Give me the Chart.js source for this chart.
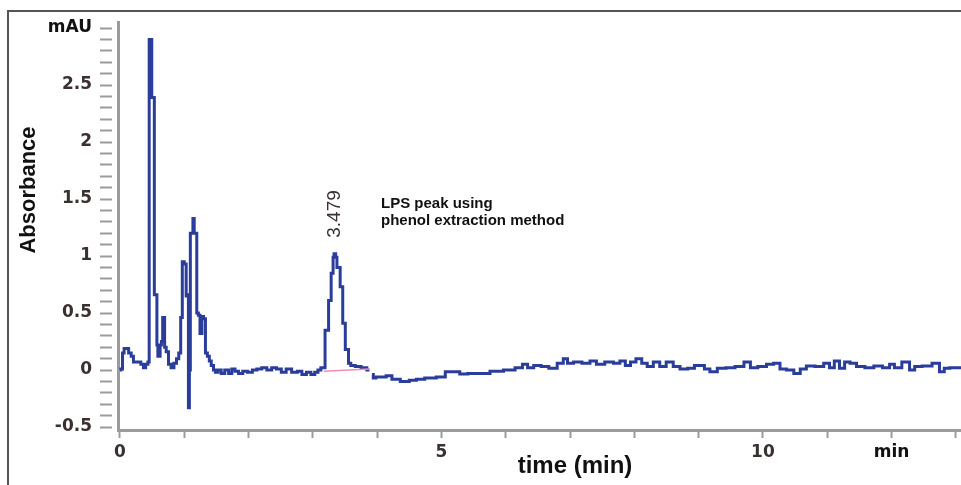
<!DOCTYPE html>
<html><head><meta charset="utf-8">
<script src="https://cdn.jsdelivr.net/npm/chart.js@4/dist/chart.umd.min.js"></script>
<style>html,body{margin:0;padding:0;background:#fff}#wrap{width:961px;height:485px;position:relative}</style>
</head><body><div id="wrap"><canvas id="c" width="961" height="485"></canvas></div>
<script>
// Retention time (min) and absorbance (mAU)
const timeMin = [
  0, 0.03, 0.05, 0.08, 0.12, 0.15, 0.2, 0.22, 0.3, 0.35, 0.38, 0.42, 0.45,
  0.46, 0.49, 0.5, 0.53, 0.54, 0.57, 0.58, 0.6, 0.62, 0.63, 0.66, 0.67, 0.69, 0.7, 0.74, 0.77,
  0.82, 0.86, 0.9, 0.93, 0.96, 0.98, 1.02, 1.04, 1.06, 1.07, 1.09, 1.1, 1.13, 1.14, 1.17, 1.19,
  1.2, 1.24, 1.25, 1.27, 1.28, 1.32, 1.34, 1.38, 1.4, 1.44, 1.47, 1.5,
  1.55, 1.6, 1.66, 1.72, 1.76, 1.82, 1.87, 1.95, 2.02, 2.1, 2.16, 2.25, 2.32, 2.4, 2.47, 2.55,
  2.62, 2.72, 2.8, 2.86, 2.94, 3.0, 3.06, 3.1, 3.15,
  3.18, 3.2, 3.24, 3.25, 3.28, 3.29, 3.31, 3.32, 3.34, 3.37, 3.38, 3.42, 3.43, 3.46, 3.47, 3.5,
  3.51, 3.55, 3.56, 3.62, 3.7, 3.8, 3.88, 3.9, 3.92, 3.96,
  4.0, 4.1, 4.18, 4.28, 4.44, 4.56, 4.66, 4.82, 5.02, 5.1, 5.24, 5.33, 5.49, 5.65, 5.86,
  6.07, 6.22, 6.3, 6.38, 6.49, 6.61, 6.73, 6.87, 6.92, 7.0, 7.11, 7.26, 7.36, 7.46, 7.62,
  7.73, 7.82, 7.9, 7.98, 8.07, 8.16, 8.24, 8.35, 8.44, 8.55, 8.66, 8.76, 8.9, 8.97, 9.05,
  9.13, 9.22, 9.36, 9.49, 9.64, 9.77, 9.84, 10.0, 10.11, 10.22, 10.31, 10.42, 10.54, 10.62,
  10.73, 10.89, 11.0, 11.07, 11.15, 11.23, 11.31, 11.4, 11.51, 11.66, 11.79, 11.93, 12.01,
  12.08, 12.24, 12.32, 12.4, 12.55, 12.71, 12.78, 12.86, 12.95, 13.08
];
const absorbance = [
  0, 0.01, 0.15, 0.19, 0.19, 0.15, 0.12, 0.07, 0.07, 0.05, 0.02, 0.05, 0.07,
  2.9, 2.9, 2.39, 2.39, 0.66, 0.66, 0.22, 0.12, 0.12, 0.22, 0.25, 0.46, 0.46, 0.2, 0.16, 0.05,
  0.02, 0.06, 0.1, 0.15, 0.46, 0.95, 0.93, 0.65, 0.66, -0.33, 0.0, 1.2, 1.2, 1.33, 1.2, 1.2,
  0.5, 0.48, 0.32, 0.32, 0.47, 0.45, 0.15, 0.12, 0.08, 0.04, 0.0, -0.02,
  0.0, -0.03, 0.0, -0.03, 0.01, -0.01, -0.03, -0.01, -0.02, 0.0, 0.01, 0.02, 0.0, 0.02, 0.01, -0.02,
  0.01, -0.02, -0.01, -0.04, -0.02, -0.04, -0.02, 0.0, 0.02,
  0.02, 0.35, 0.35, 0.61, 0.61, 0.85, 0.85, 0.99, 1.02, 0.99, 0.9, 0.9, 0.73, 0.73, 0.41, 0.41,
  0.18, 0.18, 0.06, 0.04, 0.03, 0.02, 0.0, null, -0.04, -0.07,
  -0.06, -0.06, -0.05, -0.08, -0.1, -0.09, -0.08, -0.07, -0.06, -0.015, -0.015, -0.035, -0.03, -0.03, -0.01,
  0.0, 0.02, 0.05, 0.02, 0.04, 0.03, 0.015, 0.06, 0.1, 0.06, 0.07, 0.06, 0.08, 0.05, 0.07,
  0.06, 0.08, 0.04, 0.07, 0.1, 0.06, 0.03, 0.07, 0.03, 0.07, 0.03, 0.01, 0.015, 0.04, 0.04,
  0.01, -0.015, 0.015, 0.02, 0.03, 0.07, 0.02, 0.03, 0.05, 0.06, 0.01, 0.0, -0.03, 0.01,
  0.035, 0.03, 0.06, 0.02, 0.08, 0.015, 0.07, 0.06, 0.03, 0.02, 0.035, 0.02, 0.05,
  0.02, 0.07, 0.0, 0.03, 0.035, 0.06, -0.015, 0.015, 0.02, 0.02
];
// integration baseline under the LPS peak
const baselineTime = [3.17, 3.88];
const baselineAbs = [-0.01, 0.01];

const yTickValues = [-0.5, -0.4, -0.3, -0.2, -0.1, 0, 0.1, 0.2, 0.3, 0.4, 0.5, 0.6, 0.7, 0.8, 0.9, 1.0,
  1.1, 1.2, 1.3, 1.4, 1.5, 1.6, 1.7, 1.8, 1.9, 2.0, 2.1, 2.2, 2.3, 2.4, 2.5, 2.6, 2.7, 2.8, 2.9, 3.0];
const yLabelValues = [-0.5, 0, 0.5, 1, 1.5, 2, 2.5, 3];
const yLabelTexts = ['-0.5', '0', '0.5', '1', '1.5', '2', '2.5', 'mAU'];
const xTickValues = [0, 1, 2, 3, 4, 5, 6, 7, 8, 9, 10, 11, 12, 13];
const xLabelValues = [0, 5, 10, 12];
const xLabelTexts = ['0', '5', '10', 'min'];

const peakLabel = '3.479';
const noteLines = ['LPS peak using', 'phenol extraction method'];

function findLabel(vals, texts, v) {
  for (let i = 0; i < vals.length; i++) if (Math.abs(vals[i] - v) < 1e-6) return texts[i];
  return '';
}

const AXIS_GREY = '#9b9b9b';
const LABEL_COL = '#3a3030';

const framePlugin = {
  id: 'frame',
  beforeDraw(chart) {
    const ctx = chart.ctx;
    ctx.save();
    ctx.fillStyle = '#fff';
    ctx.fillRect(0, 0, chart.width, chart.height);
    ctx.strokeStyle = '#555';
    ctx.lineWidth = 2;
    ctx.beginPath();
    ctx.moveTo(8, 485);
    ctx.lineTo(8, 11);
    ctx.lineTo(961, 11);
    ctx.stroke();
    ctx.restore();
  },
  afterDraw(chart) {
    const ctx = chart.ctx;
    const xs = chart.scales.x;
    ctx.save();
    ctx.fillStyle = '#111';
    ctx.font = 'bold 22px "Liberation Sans", Arial, sans-serif';
    ctx.textAlign = 'center';
    ctx.textBaseline = 'middle';
    ctx.translate(29, 190);
    ctx.rotate(-Math.PI / 2);
    ctx.fillText('Absorbance', 0, 0);
    ctx.restore();
    ctx.save();
    ctx.fillStyle = '#111';
    ctx.font = 'bold 24px "Liberation Sans", Arial, sans-serif';
    ctx.textAlign = 'center';
    ctx.textBaseline = 'middle';
    ctx.fillText('time (min)', 575, 466);
    ctx.fillStyle = LABEL_COL;
    ctx.font = '19px "Liberation Sans", Arial, sans-serif';
    ctx.save();
    ctx.translate(xs.getPixelForValue(3.34), 214);
    ctx.rotate(-Math.PI / 2);
    ctx.fillText(peakLabel, 0, 0);
    ctx.restore();
    ctx.fillStyle = '#111';
    ctx.font = 'bold 15px "Liberation Sans", Arial, sans-serif';
    ctx.textAlign = 'left';
    ctx.fillText(noteLines[0], 381, 204);
    ctx.fillText(noteLines[1], 381, 221);
    ctx.restore();
  }
};

const mainData = timeMin.map((t, i) => ({ x: t, y: absorbance[i] }));
const baseData = baselineTime.map((t, i) => ({ x: t, y: baselineAbs[i] }));

new Chart(document.getElementById('c'), {
  type: 'line',
  data: {
    datasets: [
      { data: baseData, borderColor: '#f48cb6', borderWidth: 1.5, pointRadius: 0, tension: 0 },
      { data: mainData, borderColor: '#2b3d9b', borderWidth: 3, pointRadius: 0, tension: 0, stepped: 'middle', spanGaps: false, borderJoinStyle: 'miter' }
    ]
  },
  options: {
    responsive: false,
    devicePixelRatio: 1,
    animation: false,
    events: [],
    layout: { padding: { top: 22, left: 0, right: 0, bottom: 0 } },
    plugins: { legend: { display: false }, tooltip: { enabled: false }, title: { display: false } },
    scales: {
      x: {
        type: 'linear',
        min: -0.03,
        max: 13.08,
        afterBuildTicks(s) { s.ticks = xTickValues.map(v => ({ value: v })); },
        afterFit(s) { s.height = 55; },
        border: { display: true, color: AXIS_GREY, width: 3 },
        grid: { drawOnChartArea: false, drawTicks: true, tickLength: 8, tickColor: AXIS_GREY, tickWidth: 2 },
        ticks: {
          autoSkip: false, maxRotation: 0, padding: 4,
          font: { family: '"DejaVu Sans", sans-serif', size: 17, weight: 'bold' },
          color: ctx => (findLabel(xLabelValues, xLabelTexts, ctx.tick.value) === 'min' ? '#111' : LABEL_COL),
          callback: v => findLabel(xLabelValues, xLabelTexts, v)
        }
      },
      y: {
        type: 'linear',
        min: -0.526,
        max: 3.053,
        afterBuildTicks(s) { s.ticks = yTickValues.map(v => ({ value: v })); },
        afterFit(s) { s.width = 118; },
        border: { display: true, color: AXIS_GREY, width: 3 },
        grid: { drawOnChartArea: false, drawTicks: true, tickLength: 18, tickColor: AXIS_GREY, tickWidth: 2, tickBorderDash: [12, 40] },
        ticks: {
          autoSkip: false, padding: 8,
          font: { family: '"DejaVu Sans", sans-serif', size: 17, weight: 'bold' },
          color: ctx => (findLabel(yLabelValues, yLabelTexts, ctx.tick.value) === 'mAU' ? '#111' : LABEL_COL),
          callback: v => findLabel(yLabelValues, yLabelTexts, v)
        }
      }
    }
  },
  plugins: [framePlugin]
});
</script>
</body></html>
